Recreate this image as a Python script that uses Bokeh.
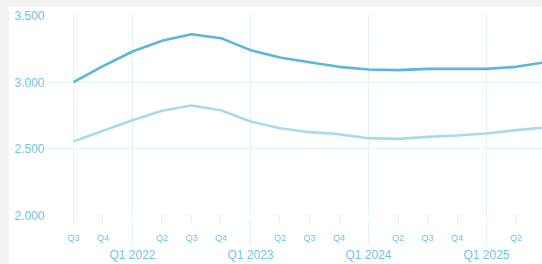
from bokeh.plotting import figure
from bokeh.models import FixedTicker, LinearAxis, CustomJSTickFormatter, Range1d
from bokeh.embed import file_html
from bokeh.resources import INLINE
from jinja2 import Template

quarters = ["Q3 2021", "Q4 2021", "Q1 2022", "Q2 2022", "Q3 2022", "Q4 2022",
            "Q1 2023", "Q2 2023", "Q3 2023", "Q4 2023", "Q1 2024", "Q2 2024",
            "Q3 2024", "Q4 2024", "Q1 2025", "Q2 2025", "Q3 2025"]
series_dark = [3000, 3120, 3230, 3310, 3360, 3330, 3240, 3185, 3150, 3115,
               3095, 3090, 3100, 3100, 3100, 3115, 3150]
series_light = [2555, 2635, 2715, 2785, 2825, 2790, 2705, 2655, 2625, 2610,
                2580, 2575, 2590, 2600, 2615, 2640, 2660]
y_ticks = [2000, 2500, 3000, 3500]

TEXT = "#72c3e5"
GRID = "#e4f3fa"
DARK = "#5ab6dc"
LIGHT = "#a9daec"
FONT = "Liberation Sans"

x = list(range(len(quarters)))
q1_idx = [i for i, q in enumerate(quarters) if q.startswith("Q1")]
other_idx = [i for i, q in enumerate(quarters) if not q.startswith("Q1")]
short_labels = [q.split()[0] for q in quarters]

p = figure(width=534, height=258, output_backend="svg", toolbar_location=None,
           x_range=Range1d(-0.881, 15.898), y_range=Range1d(2000, 3500),
           min_border_left=39, min_border_right=0, min_border_top=9,
           min_border_bottom=47)
p.outline_line_color = None
p.background_fill_color = "white"
p.border_fill_color = "white"

p.line(x, series_dark, line_color=DARK, line_width=2.6)
p.line(x, series_light, line_color=LIGHT, line_width=2.6)

# y axis
p.yaxis.ticker = FixedTicker(ticks=y_ticks)
p.yaxis.formatter = CustomJSTickFormatter(code="return (tick/1000).toFixed(3)")
p.yaxis.axis_line_color = None
p.yaxis.major_tick_in = 0
p.yaxis.major_tick_out = 0
p.yaxis.minor_tick_in = 0
p.yaxis.minor_tick_out = 0
p.yaxis.major_tick_line_color = None
p.yaxis.minor_tick_line_color = None
p.yaxis.major_label_standoff = 3
p.yaxis.axis_label_standoff = 0
p.yaxis.major_label_text_font = FONT
p.yaxis.major_label_text_font_size = "12px"
p.yaxis.major_label_text_color = TEXT

# grids
p.ygrid.ticker = FixedTicker(ticks=y_ticks)
p.ygrid.grid_line_color = GRID
p.ygrid.grid_line_width = 1
p.xgrid.ticker = FixedTicker(ticks=[0] + q1_idx)
p.xgrid.grid_line_color = GRID
p.xgrid.grid_line_width = 1

# quarter axis
xa = p.xaxis[0]
xa.ticker = FixedTicker(ticks=other_idx)
xa.formatter = CustomJSTickFormatter(args=dict(labels=short_labels),
                                     code="return labels[Math.round(tick)]")
xa.axis_line_color = None
xa.major_tick_in = 0
xa.major_tick_out = 7
xa.minor_tick_in = 0
xa.minor_tick_out = 0
xa.major_tick_line_color = GRID
xa.minor_tick_line_color = None
xa.major_label_standoff = 10
xa.axis_label_standoff = 0
xa.major_label_text_font = FONT
xa.major_label_text_font_size = "9px"
xa.major_label_text_color = TEXT

# year axis
ya = LinearAxis(ticker=FixedTicker(ticks=q1_idx),
                formatter=CustomJSTickFormatter(args=dict(labels=quarters),
                                                code="return labels[Math.round(tick)]"))
ya.axis_line_color = None
ya.major_tick_in = 27
ya.major_tick_out = 0
ya.minor_tick_in = 0
ya.minor_tick_out = 0
ya.major_tick_line_color = GRID
ya.minor_tick_line_color = None
ya.major_label_standoff = 2
ya.axis_label_standoff = 0
ya.major_label_text_font = FONT
ya.major_label_text_font_size = "12px"
ya.major_label_text_color = TEXT
p.add_layout(ya, "below")

tpl = Template("""{% extends base %}
{% block preamble %}<style>
html, body { background: #f2f2f2 !important; overflow: hidden !important; }
body { padding: 6px 0 0 8px !important; box-sizing: border-box !important; }
</style>{% endblock %}
""")

open("out.html", "w").write(file_html(p, INLINE, template=tpl))
